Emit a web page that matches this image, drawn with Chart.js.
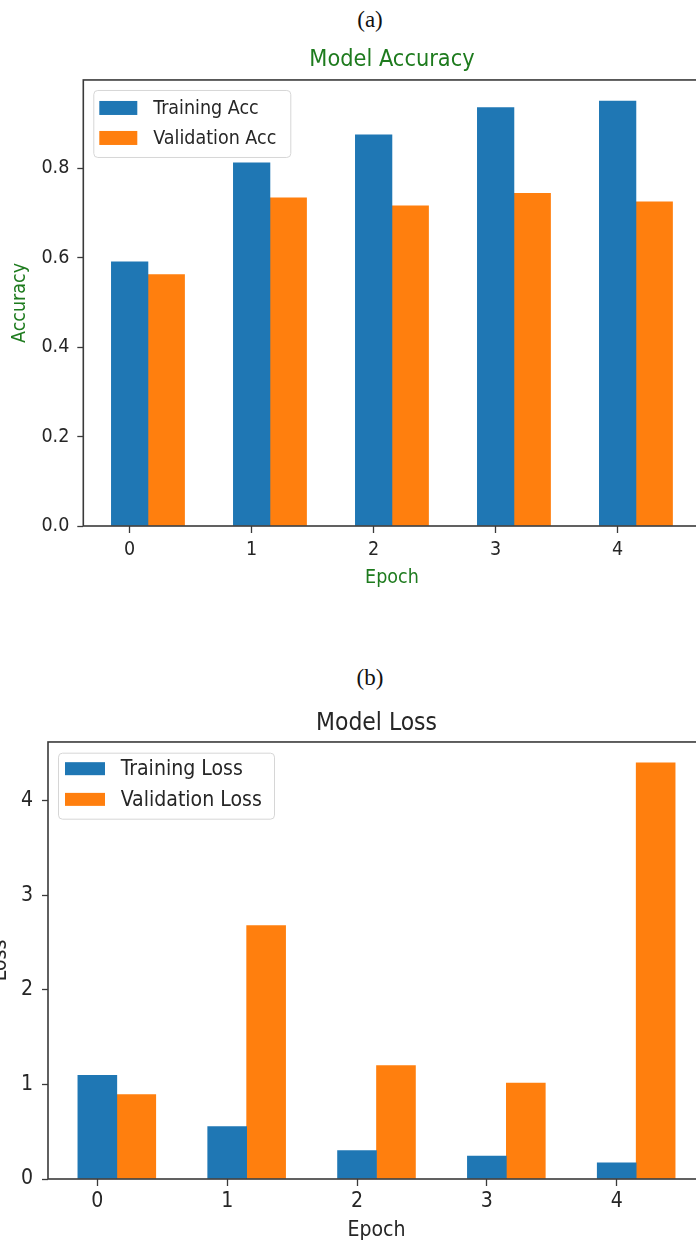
<!DOCTYPE html>
<html>
<head>
<meta charset="utf-8">
<script src="https://cdn.jsdelivr.net/npm/chart.js@4.4.1/dist/chart.umd.min.js"></script>
<style>
  html, body { margin: 0; padding: 0; background: #fff; overflow: hidden; }
  #page { position: relative; width: 696px; height: 1245px; overflow: hidden; background: #fff; }
  .cap { position: absolute; left: 0; width: 740px; text-align: center;
         font-family: "Liberation Serif", "Times New Roman", serif; font-size: 23px;
         line-height: 24px; color: #111; }
  canvas { position: absolute; left: 0; }
</style>
</head>
<body>
<div id="page">
  <div class="cap" style="top:8px">(a)</div>
  <canvas id="acc" width="720" height="600" style="top:0px"></canvas>
  <div class="cap" style="top:666px">(b)</div>
  <canvas id="loss" width="720" height="625" style="top:620px"></canvas>
</div>
<script>
// ---- data ----
const epochs = [0, 1, 2, 3, 4];
const epochLabels = ['0', '1', '2', '3', '4'];

const trainAcc = [0.591, 0.812, 0.875, 0.936, 0.950];
const valAcc   = [0.562, 0.734, 0.716, 0.744, 0.725];
const accTicks = [0, 0.2, 0.4, 0.6, 0.8];
const accTickLabels = ['0.0', '0.2', '0.4', '0.6', '0.8'];

const trainLoss = [1.097, 0.553, 0.300, 0.243, 0.172];
const valLoss   = [0.893, 2.680, 1.198, 1.015, 4.400];
const lossTicks = [0, 1, 2, 3, 4];
const lossTickLabels = ['0', '1', '2', '3', '4'];

// ---- styling ----
const BLUE = '#1f77b4';
const ORANGE = '#ff7f0e';
const GREEN = '#1e7b1e';
const INK = '#262626';
const SPINE = '#3a3a3a';
const FONT = '"DejaVu Sans Condensed", "DejaVu Sans", sans-serif';
const BAR_W = 0.3;   // bar width in epoch units; second series sits one bar to the right

// x range: bars span [-BAR_W/2, last + 1.5*BAR_W], padded by 5% on each side
const xLo = epochs[0] - BAR_W / 2;
const xHi = epochs[epochs.length - 1] + BAR_W * 1.5;
const xMin = xLo - 0.05 * (xHi - xLo);
const xMax = xHi + 0.05 * (xHi - xLo);

const points = (ys, shift) => epochs.map((e, i) => ({ x: e + shift, y: ys[i] }));

// full box around the plotting area, drawn over the bars
const framePlugin = {
  id: 'frame',
  afterDatasetsDraw(chart) {
    const { ctx, chartArea: a } = chart;
    ctx.save();
    ctx.strokeStyle = SPINE;
    ctx.lineWidth = 1.6;
    ctx.strokeRect(a.left, a.top, a.right - a.left, a.bottom - a.top);
    ctx.restore();
  }
};

// legend box drawn inside the upper-left of the plotting area
const boxLegendPlugin = {
  id: 'boxLegend',
  afterDatasetsDraw(chart, args, o) {
    const { ctx, chartArea: a } = chart;
    const x = a.left + o.dx, y = a.top + o.dy;
    ctx.save();
    ctx.beginPath();
    ctx.roundRect(x + 0.5, y + 0.5, o.w, o.h, 4);
    ctx.fillStyle = 'rgba(255,255,255,0.85)';
    ctx.fill();
    ctx.strokeStyle = '#d6d6d6';
    ctx.lineWidth = 1;
    ctx.stroke();
    ctx.font = o.size + 'px ' + FONT;
    ctx.textBaseline = 'middle';
    ctx.textAlign = 'left';
    chart.data.datasets.forEach((ds, i) => {
      const cy = y + o.row0 + i * o.rowGap;
      ctx.fillStyle = ds.backgroundColor;
      ctx.fillRect(x + o.px, cy - o.ph / 2, o.pw, o.ph);
      ctx.fillStyle = INK;
      ctx.fillText(ds.label, x + o.tx, cy + 1);
    });
    ctx.restore();
  }
};

function makeBarChart(id, cfg) {
  const tickFont = { family: FONT, size: cfg.fontSize };
  return new Chart(document.getElementById(id), {
    type: 'bar',
    data: {
      datasets: [
        { label: cfg.labels[0], data: points(cfg.series[0], 0), backgroundColor: BLUE },
        { label: cfg.labels[1], data: points(cfg.series[1], BAR_W), backgroundColor: ORANGE }
      ]
    },
    options: {
      responsive: false,
      animation: false,
      events: [],
      layout: { padding: { left: 0, top: 0, bottom: 0, right: cfg.padRight } },
      datasets: { bar: { grouped: false, barPercentage: 1, categoryPercentage: 1, borderWidth: 0 } },
      plugins: {
        legend: { display: false },
        tooltip: { enabled: false },
        title: {
          display: true, text: cfg.title, fullSize: false, color: cfg.titleColor,
          font: { family: FONT, size: cfg.titleSize, weight: 'normal' },
          padding: { top: cfg.titleTop, bottom: cfg.titleBottom }
        },
        boxLegend: cfg.legend
      },
      scales: {
        x: {
          type: 'linear', min: xMin, max: xMax, offset: false,
          afterBuildTicks: s => { s.ticks = epochs.map(v => ({ value: v })); },
          afterFit: s => { s.height = cfg.xAxisHeight; },
          ticks: {
            color: INK, font: tickFont, padding: cfg.xTickPad, maxRotation: 0, autoSkip: false,
            callback: v => epochLabels[epochs.indexOf(v)]
          },
          grid: { drawOnChartArea: false, drawTicks: true, tickLength: 7, tickColor: SPINE, tickWidth: 1.3, offset: false },
          border: { display: false },
          title: {
            display: true, text: 'Epoch', color: cfg.labelColor, font: tickFont,
            padding: { top: 0, bottom: cfg.xTitleBottom }
          }
        },
        y: {
          min: 0, max: cfg.yMax,
          afterBuildTicks: s => { s.ticks = cfg.yTicks.map(v => ({ value: v })); },
          afterFit: s => { s.width = cfg.yAxisWidth; },
          ticks: {
            color: INK, font: tickFont, padding: cfg.yTickPad,
            callback: v => cfg.yTickLabels[cfg.yTicks.indexOf(v)]
          },
          grid: { drawOnChartArea: false, drawTicks: true, tickLength: 6, tickColor: SPINE, tickWidth: 1.3 },
          border: { display: false },
          title: {
            display: true, text: cfg.yTitle, color: cfg.labelColor, font: tickFont,
            padding: { top: cfg.yTitleTop, bottom: 0 }
          }
        }
      }
    },
    plugins: [framePlugin, boxLegendPlugin]
  });
}

// (a) accuracy per epoch
makeBarChart('acc', {
  title: 'Model Accuracy', titleColor: GREEN, labelColor: GREEN,
  titleSize: 23.3, titleTop: 46.0, titleBottom: 6.0,
  fontSize: 19.5,
  labels: ['Training Acc', 'Validation Acc'],
  series: [trainAcc, valAcc],
  yMax: Math.max(...trainAcc, ...valAcc) * 1.05,
  yTicks: accTicks, yTickLabels: accTickLabels, yTitle: 'Accuracy',
  yAxisWidth: 83.3, yTickPad: 8, yTitleTop: 8.3,
  xAxisHeight: 74, xTickPad: 5.3, xTitleBottom: 10.3,
  padRight: 19.4,
  legend: { dx: 10, dy: 10, w: 197, h: 67, row0: 18, rowGap: 30, px: 6, pw: 38, ph: 14, tx: 60, size: 19.5 }
});

// (b) loss per epoch
makeBarChart('loss', {
  title: 'Model Loss', titleColor: INK, labelColor: INK,
  titleSize: 24.4, titleTop: 89.35, titleBottom: 3.35,
  fontSize: 21.1,
  labels: ['Training Loss', 'Validation Loss'],
  series: [trainLoss, valLoss],
  yMax: Math.max(...trainLoss, ...valLoss) * 1.05,
  yTicks: lossTicks, yTickLabels: lossTickLabels, yTitle: 'Loss',
  yAxisWidth: 48, yTickPad: 9, yTitleTop: -11.7,
  xAxisHeight: 66, xTickPad: 3.3, xTitleBottom: 2.3,
  padRight: 15,
  legend: { dx: 10, dy: 10.7, w: 216, h: 66, row0: 16, rowGap: 30.7, px: 7, pw: 40, ph: 13, tx: 62.7, size: 21.1 }
});
</script>
</body>
</html>
